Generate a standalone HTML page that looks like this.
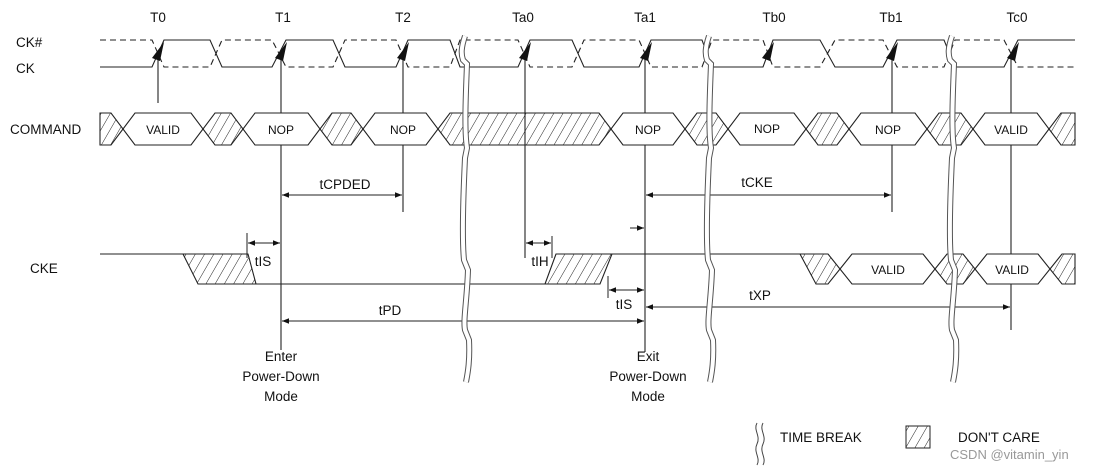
<!DOCTYPE html>
<html><head><meta charset="utf-8"><style>
html,body{margin:0;padding:0;background:#fff}
svg{display:block}
text{font-family:"Liberation Sans",sans-serif;font-size:13.5px;fill:#111}
</style></head><body>
<svg width="1119" height="472" viewBox="0 0 1119 472" xmlns="http://www.w3.org/2000/svg">
<defs>
<pattern id="h" patternUnits="userSpaceOnUse" width="8" height="8" patternTransform="rotate(30)">
<line x1="0" y1="0" x2="0" y2="8" stroke="#222" stroke-width="1"/>
</pattern>
<marker id="a" viewBox="0 0 10 10" refX="10" refY="5" markerWidth="9" markerHeight="7" orient="auto-start-reverse" markerUnits="userSpaceOnUse">
<path d="M0,1 L10,5 L0,9 z" fill="#111"/>
</marker>
</defs>
<g fill="none" stroke="#222" stroke-width="1.1">
<!-- CK solid -->
<polyline points="100,67 152,67 164,40 210,40 222,67 272,67 286,40 333,40 345,67 396,67 408,40 450,40 460,67 518,67 530,40 572,40 584,67 639,67 651,40 702,40 712,67 763,67 773,40 820,40 835,67 883,67 897,40 944,40 955,67 1004,67 1018,40 1075,40"/>
<!-- CK# dashed -->
<polyline stroke-dasharray="6,4" points="100,40 152,40 164,67 210,67 222,40 272,40 286,67 333,67 345,40 396,40 408,67 450,67 460,40 518,40 530,67 572,67 584,40 639,40 651,67 702,67 712,40 763,40 773,67 820,67 835,40 883,40 897,67 944,67 955,40 1004,40 1018,67 1075,67"/>
<!-- vertical reference lines -->
<line x1="158" y1="58" x2="158" y2="103"/>
<line x1="281" y1="58" x2="281" y2="350"/>
<line x1="403" y1="58" x2="403" y2="212"/>
<line x1="525" y1="58" x2="525" y2="258"/>
<line x1="645" y1="58" x2="645" y2="352"/>
<line x1="892" y1="58" x2="892" y2="212"/>
<line x1="1011" y1="58" x2="1011" y2="330"/>
</g>
<!-- clock arrowheads -->
<g fill="#111">
<polygon points="164,42 152,58 160,61"/>
<polygon points="287,42 275,58 283,61"/>
<polygon points="409,42 397,58 405,61"/>
<polygon points="531,42 519,58 527,61"/>
<polygon points="652,42 640,58 648,61"/>
<polygon points="774,42 762,58 770,61"/>
<polygon points="898,42 886,58 894,61"/>
<polygon points="1019,42 1007,58 1015,61"/>
</g>
<!-- COMMAND bus -->
<g stroke="#222" stroke-width="1.1">
<g fill="url(#h)">
<polygon points="100,113 111,113 123,129 111,145 100,145"/>
<polygon points="203,129 215,113 231,113 243,129 231,145 215,145"/>
<polygon points="320,129 332,113 351,113 363,129 351,145 332,145"/>
<polygon points="438,129 450,113 599,113 611,129 599,145 450,145"/>
<polygon points="685,129 697,113 716,113 728,129 716,145 697,145"/>
<polygon points="806,129 818,113 837,113 849,129 837,145 818,145"/>
<polygon points="927,129 939,113 961,113 973,129 961,145 939,145"/>
<polygon points="1049,129 1061,113 1075,113 1075,145 1061,145"/>
</g>
<g fill="#fff">
<polygon points="123,129 135,113 191,113 203,129 191,145 135,145"/>
<polygon points="243,129 255,113 308,113 320,129 308,145 255,145"/>
<polygon points="363,129 375,113 426,113 438,129 426,145 375,145"/>
<polygon points="611,129 623,113 673,113 685,129 673,145 623,145"/>
<polygon points="728,129 740,113 794,113 806,129 794,145 740,145"/>
<polygon points="849,129 861,113 915,113 927,129 915,145 861,145"/>
<polygon points="973,129 985,113 1037,113 1049,129 1037,145 985,145"/>
</g>
</g>
<g font-size="12">
<text x="163" y="134" text-anchor="middle" style="font-size:12px">VALID</text>
<text x="281" y="134" text-anchor="middle" style="font-size:12px">NOP</text>
<text x="403" y="134" text-anchor="middle" style="font-size:12px">NOP</text>
<text x="648" y="134" text-anchor="middle" style="font-size:12px">NOP</text>
<text x="767" y="133" text-anchor="middle" style="font-size:12px">NOP</text>
<text x="888" y="134" text-anchor="middle" style="font-size:12px">NOP</text>
<text x="1011" y="134" text-anchor="middle" style="font-size:12px">VALID</text>
</g>
<!-- CKE -->
<g stroke="#222" stroke-width="1.1">
<polyline fill="none" points="100,254 183,254"/>
<polygon fill="url(#h)" points="183,254 248,254 256,284 198,284"/>
<line x1="256" y1="284" x2="545" y2="284"/>
<polygon fill="url(#h)" points="545,284 600,284 612,254 556,254"/>
<line x1="612" y1="254" x2="800" y2="254"/>
<polygon fill="url(#h)" points="800,254 828,254 840,269 828,284 816,284"/>
<polygon fill="#fff" points="840,269 852,254 923,254 935,269 923,284 852,284"/>
<polygon fill="url(#h)" points="935,269 947,254 963,254 975,269 963,284 947,284"/>
<polygon fill="#fff" points="975,269 987,254 1038,254 1050,269 1038,284 987,284"/>
<polygon fill="url(#h)" points="1050,269 1062,254 1075,254 1075,284 1062,284"/>
</g>
<text x="888" y="274" text-anchor="middle" style="font-size:12px">VALID</text>
<text x="1012" y="274" text-anchor="middle" style="font-size:12px">VALID</text>
<!-- timing arrows -->
<g stroke="#222" stroke-width="1" fill="none">
<line x1="282" y1="195" x2="402" y2="195" marker-start="url(#a)" marker-end="url(#a)"/>
<line x1="646" y1="195" x2="891" y2="195" marker-start="url(#a)" marker-end="url(#a)"/>
<line x1="630" y1="228" x2="644" y2="228" marker-end="url(#a)"/>
<line x1="247" y1="233" x2="247" y2="258"/>
<line x1="248" y1="243" x2="280" y2="243" marker-start="url(#a)" marker-end="url(#a)"/>
<line x1="552" y1="236" x2="552" y2="258"/>
<line x1="526" y1="243" x2="551" y2="243" marker-start="url(#a)" marker-end="url(#a)"/>
<line x1="608" y1="276" x2="608" y2="298"/>
<line x1="609" y1="290" x2="644" y2="290" marker-start="url(#a)" marker-end="url(#a)"/>
<line x1="282" y1="321" x2="644" y2="321" marker-start="url(#a)" marker-end="url(#a)"/>
<line x1="646" y1="307" x2="1010" y2="307" marker-start="url(#a)" marker-end="url(#a)"/>
</g>
<!-- time breaks -->
<g fill="none">
<path id="b1" d="M465,36 C461,48 461,54 463,60 L467,64 C466,90 464,130 467,148 L465,158 C463,200 462,240 464,260 L468,270 C467,300 463,320 465,330 L469,340 C470,360 468,372 466,382" stroke="#555" stroke-width="6"/>
<path d="M465,36 C461,48 461,54 463,60 L467,64 C466,90 464,130 467,148 L465,158 C463,200 462,240 464,260 L468,270 C467,300 463,320 465,330 L469,340 C470,360 468,372 466,382" stroke="#fff" stroke-width="4"/>
<path d="M709,36 C705,48 705,54 707,60 L711,64 C710,90 708,130 711,148 L709,158 C707,200 706,240 708,260 L712,270 C711,300 707,320 709,330 L713,340 C714,360 712,372 710,382" stroke="#555" stroke-width="6"/>
<path d="M709,36 C705,48 705,54 707,60 L711,64 C710,90 708,130 711,148 L709,158 C707,200 706,240 708,260 L712,270 C711,300 707,320 709,330 L713,340 C714,360 712,372 710,382" stroke="#fff" stroke-width="4"/>
<path d="M952,36 C948,48 948,54 950,60 L954,64 C953,90 951,130 954,148 L952,158 C950,200 949,240 951,260 L955,270 C954,300 950,320 952,330 L956,340 C957,360 955,372 953,382" stroke="#555" stroke-width="6"/>
<path d="M952,36 C948,48 948,54 950,60 L954,64 C953,90 951,130 954,148 L952,158 C950,200 949,240 951,260 L955,270 C954,300 950,320 952,330 L956,340 C957,360 955,372 953,382" stroke="#fff" stroke-width="4"/>
</g>
<!-- labels -->
<text x="158" y="22" text-anchor="middle">T0</text>
<text x="283" y="22" text-anchor="middle">T1</text>
<text x="403" y="22" text-anchor="middle">T2</text>
<text x="523" y="22" text-anchor="middle">Ta0</text>
<text x="645" y="22" text-anchor="middle">Ta1</text>
<text x="774" y="22" text-anchor="middle">Tb0</text>
<text x="891" y="22" text-anchor="middle">Tb1</text>
<text x="1017" y="22" text-anchor="middle">Tc0</text>
<text x="16" y="47">CK#</text>
<text x="16" y="73">CK</text>
<text x="10" y="134">COMMAND</text>
<text x="30" y="273">CKE</text>
<text x="345" y="189" text-anchor="middle">tCPDED</text>
<text x="757" y="187" text-anchor="middle">tCKE</text>
<text x="263" y="266" text-anchor="middle">tIS</text>
<text x="540" y="266" text-anchor="middle">tIH</text>
<text x="624" y="309" text-anchor="middle">tIS</text>
<text x="390" y="315" text-anchor="middle">tPD</text>
<text x="760" y="300" text-anchor="middle">tXP</text>
<text x="281" y="361" text-anchor="middle">Enter</text>
<text x="281" y="381" text-anchor="middle">Power-Down</text>
<text x="281" y="401" text-anchor="middle">Mode</text>
<text x="648" y="361" text-anchor="middle">Exit</text>
<text x="648" y="381" text-anchor="middle">Power-Down</text>
<text x="648" y="401" text-anchor="middle">Mode</text>
<!-- legend -->
<g fill="none" stroke="#444" stroke-width="1">
<path d="M757,423 C753,430 761,436 757,444 C753,452 761,458 757,465"/>
<path d="M763,423 C759,430 767,436 763,444 C759,452 767,458 763,465"/>
</g>
<text x="780" y="442">TIME BREAK</text>
<rect x="906" y="426" width="24" height="22" fill="url(#h)" stroke="#222" stroke-width="1"/>
<text x="958" y="442">DON'T CARE</text>
<text x="950" y="459" style="fill:#999;font-size:13px">CSDN @vitamin_yin</text>
</svg>
</body></html>
